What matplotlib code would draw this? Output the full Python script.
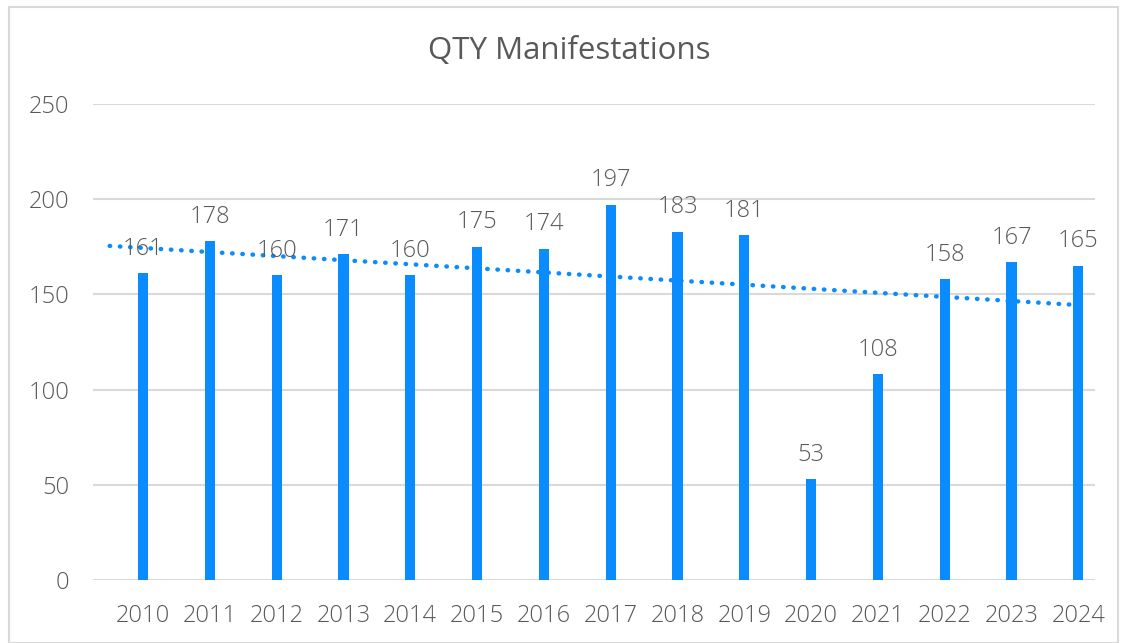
import numpy as np
from matplotlib import pyplot as plt
from matplotlib.patches import Rectangle

years = ['2010', '2011', '2012', '2013', '2014', '2015', '2016', '2017',
         '2018', '2019', '2020', '2021', '2022', '2023', '2024']
qty = [161, 178, 160, 171, 160, 175, 174, 197, 183, 181, 53, 108, 158, 167, 165]

plt.rcParams['font.family'] = ['Open Sans', 'DejaVu Sans']
plt.rcParams['font.weight'] = 'light'
grey = '#595959'
blue = '#0a8cff'

fig = plt.figure(figsize=(11.28, 6.43), dpi=100)
ax = fig.add_axes([93 / 1128, 1 - 580 / 643, (1095 - 93) / 1128, (580 - 104) / 643])

x = np.arange(len(years))
ax.bar(x, qty, width=0.15, color=blue, zorder=3)

# linear trendline
k, b = np.polyfit(x, qty, 1)
tx = np.array([-0.5, len(years) - 1])
ax.plot(tx, k * tx + b, color=blue, linestyle=(0, (0.1, 2.2)), linewidth=3.2,
        dash_capstyle='round', zorder=4)

for xi, v in zip(x, qty):
    ax.annotate(str(v), (xi, v), xytext=(0, 9), textcoords='offset points',
                ha='center', va='bottom', fontsize=17, color=grey, zorder=5)

ax.set_xlim(-0.75, len(years) - 0.75)
ax.set_ylim(0, 250)
ax.set_yticks(range(0, 251, 50))
ax.set_xticks(x)
ax.set_xticklabels(years)
ax.grid(axis='y', color='#d9d9d9', linewidth=1.5, zorder=0)
for s in ['top', 'right', 'left', 'bottom']:
    ax.spines[s].set_visible(False)
ax.tick_params(length=0, labelsize=17, labelcolor=grey)
ax.tick_params(axis='y', pad=17)
ax.tick_params(axis='x', pad=17)

fig.text(569 / 1128, 1 - 51 / 643, 'QTY Manifestations', ha='center', va='center',
         fontsize=22.5, fontweight='normal', color=grey)

fig.patches.append(Rectangle((9 / 1128, 0), (1118 - 9) / 1128, 1 - 7 / 643,
                             transform=fig.transFigure, fill=False,
                             edgecolor='#d9d9d9', linewidth=1.5))

plt.savefig('out.png', dpi=100)
plt.close()
